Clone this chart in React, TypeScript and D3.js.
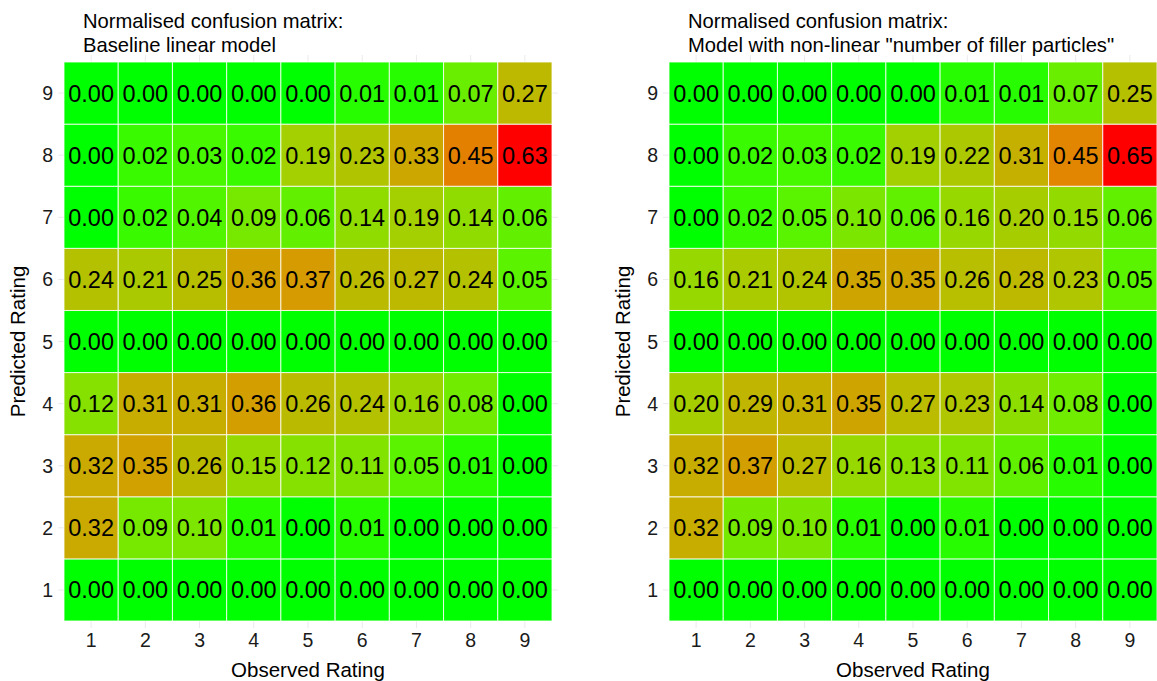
import React from "react"
import * as d3 from "d3"

// ratings 1..9 on both axes
const ratings = ["1", "2", "3", "4", "5", "6", "7", "8", "9"]

// rows are predicted rating 1..9, columns observed rating 1..9
const baselineValues = [
	[0.0, 0.0, 0.0, 0.0, 0.0, 0.0, 0.0, 0.0, 0.0],
	[0.32, 0.09, 0.1, 0.01, 0.0, 0.01, 0.0, 0.0, 0.0],
	[0.32, 0.35, 0.26, 0.15, 0.12, 0.11, 0.05, 0.01, 0.0],
	[0.12, 0.31, 0.31, 0.36, 0.26, 0.24, 0.16, 0.08, 0.0],
	[0.0, 0.0, 0.0, 0.0, 0.0, 0.0, 0.0, 0.0, 0.0],
	[0.24, 0.21, 0.25, 0.36, 0.37, 0.26, 0.27, 0.24, 0.05],
	[0.0, 0.02, 0.04, 0.09, 0.06, 0.14, 0.19, 0.14, 0.06],
	[0.0, 0.02, 0.03, 0.02, 0.19, 0.23, 0.33, 0.45, 0.63],
	[0.0, 0.0, 0.0, 0.0, 0.0, 0.01, 0.01, 0.07, 0.27],
]

const nonLinearValues = [
	[0.0, 0.0, 0.0, 0.0, 0.0, 0.0, 0.0, 0.0, 0.0],
	[0.32, 0.09, 0.1, 0.01, 0.0, 0.01, 0.0, 0.0, 0.0],
	[0.32, 0.37, 0.27, 0.16, 0.13, 0.11, 0.06, 0.01, 0.0],
	[0.2, 0.29, 0.31, 0.35, 0.27, 0.23, 0.14, 0.08, 0.0],
	[0.0, 0.0, 0.0, 0.0, 0.0, 0.0, 0.0, 0.0, 0.0],
	[0.16, 0.21, 0.24, 0.35, 0.35, 0.26, 0.28, 0.23, 0.05],
	[0.0, 0.02, 0.05, 0.1, 0.06, 0.16, 0.2, 0.15, 0.06],
	[0.0, 0.02, 0.03, 0.02, 0.19, 0.22, 0.31, 0.45, 0.65],
	[0.0, 0.0, 0.0, 0.0, 0.0, 0.01, 0.01, 0.07, 0.25],
]

const titles = [
	["Normalised confusion matrix:", "Baseline linear model"],
	["Normalised confusion matrix:", 'Model with non-linear "number of filler particles"'],
]

const font = "'Liberation Sans', Arial, sans-serif"

interface IPanelProps {
	left: number
	values: number[][]
	title: string[]
}

const Panel = ({ left, values, title }: IPanelProps) => {
	const w = 488
	const top = 62
	const h = 559

	const x = d3.scaleBand().domain(ratings).range([left, left + w])
	const y = d3.scaleBand().domain(ratings).range([top + h, top])

	const max = d3.max(values.flat()) || 1
	const color = d3
		.scaleSequential(d3.interpolateLab("#00ff00", "#ff0000"))
		.domain([0, max])

	const cells = values.flatMap((row, r) =>
		row.map((v, c) => ({ obs: ratings[c], pred: ratings[r], v }))
	)

	return (
		<g fontFamily={font}>
			{/* grid lines peeking out past the tiles */}
			{ratings.map((r) => (
				<g key={"g" + r}>
					<line
						x1={x(r)! + x.bandwidth() / 2}
						x2={x(r)! + x.bandwidth() / 2}
						y1={top - 7}
						y2={top + h + 7}
						stroke="#ebebeb"
					/>
					<line
						x1={left - 6}
						x2={left + w + 6}
						y1={y(r)! + y.bandwidth() / 2}
						y2={y(r)! + y.bandwidth() / 2}
						stroke="#ebebeb"
					/>
				</g>
			))}
			{cells.map((d, i) => (
				<g key={i}>
					<rect
						x={x(d.obs)}
						y={y(d.pred)}
						width={x.bandwidth()}
						height={y.bandwidth()}
						fill={color(d.v)}
						stroke="#ffffff"
						strokeOpacity={0.8}
						strokeWidth={1}
					/>
					<text
						x={x(d.obs)! + x.bandwidth() / 2}
						y={y(d.pred)! + y.bandwidth() / 2}
						dy="0.36em"
						textAnchor="middle"
						fontSize={23.5}
						fill="#000"
					>
						{d.v.toFixed(2)}
					</text>
				</g>
			))}
			{ratings.map((r) => (
				<text
					key={"x" + r}
					x={x(r)! + x.bandwidth() / 2}
					y={647}
					textAnchor="middle"
					fontSize={19.5}
					fill="#1a1a1a"
				>
					{r}
				</text>
			))}
			{ratings.map((r) => (
				<text
					key={"y" + r}
					x={left - 11}
					y={y(r)! + y.bandwidth() / 2}
					dy="0.36em"
					textAnchor="end"
					fontSize={19.5}
					fill="#1a1a1a"
				>
					{r}
				</text>
			))}
			<text x={left + w / 2} y={677} textAnchor="middle" fontSize={20.5} fill="#000">
				Observed Rating
			</text>
			<text
				transform={`translate(${left - 39}, ${top + h / 2}) rotate(-90)`}
				textAnchor="middle"
				fontSize={20.5}
				fill="#000"
			>
				Predicted Rating
			</text>
			<text x={left + 19} y={28} fontSize={20.2} fill="#000">
				{title[0]}
			</text>
			<text x={left + 19} y={52} fontSize={20.2} fill="#000">
				{title[1]}
			</text>
		</g>
	)
}

const App = () => {
	return (
		<svg
			width={1157}
			height={681}
			style={{ position: "absolute", left: 0, top: 0, background: "#fff" }}
		>
			<Panel left={64} values={baselineValues} title={titles[0]} />
			<Panel left={669} values={nonLinearValues} title={titles[1]} />
		</svg>
	)
}

export default App
